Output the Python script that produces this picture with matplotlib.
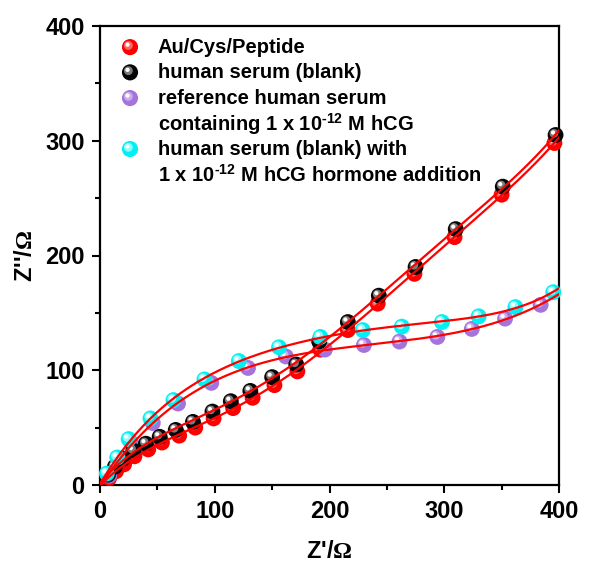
import numpy as np
import matplotlib
matplotlib.use("Agg")
import matplotlib.pyplot as plt
from matplotlib.transforms import ScaledTranslation

plt.rcParams['font.family'] = ['Liberation Sans', 'DejaVu Sans']
plt.rcParams['font.weight'] = 'bold'
plt.rcParams['mathtext.fontset'] = 'custom'
plt.rcParams['mathtext.rm'] = 'Liberation Sans:bold'
plt.rcParams['mathtext.bf'] = 'Liberation Sans:bold'
plt.rcParams['mathtext.it'] = 'Liberation Sans:bold'
plt.rcParams['mathtext.sf'] = 'Liberation Serif'

# ---- data ----
red_x = [8, 14, 21, 30, 42, 54, 69, 83, 99, 116, 133, 152, 172, 192, 216, 242, 274, 309, 350, 396]
red_y = [6, 12, 18, 25, 31, 37, 43, 50, 58, 67, 76, 87, 99, 118, 135, 158, 184, 216, 253, 298]

black_x = [7, 13, 20, 29, 40, 52, 66, 81, 98, 114, 131, 150, 171, 191, 216, 243, 275, 310, 351, 397]
black_y = [9, 16, 23, 30, 36, 42, 48, 55, 64, 73, 82, 94, 105, 125, 142, 165, 190, 223, 260, 305]

purple_x = [8, 17, 27, 46, 68, 97, 129, 162, 196, 230, 261, 294, 324, 353, 384]
purple_y = [8, 22, 37, 54, 71, 89, 102, 112, 118, 122, 125, 129, 136, 145, 157]

cyan_x = [6, 15, 25, 44, 64, 91, 121, 156, 192, 229, 263, 298, 330, 362, 395]
cyan_y = [10, 24, 40, 58, 74, 92, 108, 120, 129, 135, 138, 142, 147, 155, 168]

labels = ["Au/Cys/Peptide", "human serum (blank)",
          "reference human serum", r"containing 1 x 10$^{\text{-12}}$ M hCG",
          "human serum (blank) with", r"1 x 10$^{\text{-12}}$ M hCG hormone addition"]

xticks = [0, 100, 200, 300, 400]
yticks = [0, 100, 200, 300, 400]

colors = {
    'red': ('#ff0000', '#ff8080'),
    'black': ('#050505', '#9a9a9a'),
    'purple': ('#a474dc', '#d4bdf0'),
    'cyan': ('#00f0f4', '#b0ffff'),
}

fig = plt.figure(figsize=(5.89, 5.62), dpi=100)
ax = fig.add_axes([100/589, 77/562, 459/589, 459/562])


def sphere(ax, x, y, key, s=130, transform=None, z=3):
    base, light = colors[key]
    tr = transform if transform is not None else ax.transData
    ax.scatter(x, y, s=s, color=base, edgecolors='none', transform=tr, zorder=z, clip_on=False)
    off1 = tr + ScaledTranslation(-1.2/72, 1.2/72, fig.dpi_scale_trans)
    ax.scatter(x, y, s=s*0.30, color=light, alpha=0.8, edgecolors='none', transform=off1, zorder=z, clip_on=False)
    off2 = tr + ScaledTranslation(-1.8/72, 1.8/72, fig.dpi_scale_trans)
    ax.scatter(x, y, s=s*0.07, color='white', edgecolors='none', transform=off2, zorder=z, clip_on=False)


sphere(ax, red_x, red_y, 'red', z=3)
sphere(ax, black_x, black_y, 'black', z=4)
sphere(ax, purple_x, purple_y, 'purple', z=3)
sphere(ax, cyan_x, cyan_y, 'cyan', z=4)

# fitted lines
for xs, ys, deg in [(red_x, red_y, 5), (black_x, black_y, 5), (purple_x, purple_y, 5), (cyan_x, cyan_y, 5)]:
    xa = np.array([0] + list(xs), float)
    ya = np.array([0] + list(ys), float)
    p = np.polyfit(xa, ya, deg)
    xx = np.linspace(0, 400, 300)
    ax.plot(xx, np.polyval(p, xx), color='#ff0000', lw=1.6, zorder=6)

ax.set_xlim(0, 400)
ax.set_ylim(0, 400)
ax.set_xticks(xticks)
ax.set_yticks(yticks)
ax.set_xticks([50, 150, 250, 350], minor=True)
ax.set_yticks([50, 150, 250, 350], minor=True)
ax.tick_params(which='major', direction='out', length=6, width=1.5, labelsize=17, pad=5)
ax.tick_params(which='minor', direction='out', length=3.5, width=1.5)
for lab in ax.get_xticklabels() + ax.get_yticklabels():
    lab.set_fontweight('bold')
for sp in ax.spines.values():
    sp.set_linewidth(1.6)

ax.set_xlabel(r"Z'/$\mathsf{\Omega}$", fontsize=17, fontweight='bold', labelpad=12)
ax.set_ylabel(r"Z''/$\mathsf{\Omega}$", fontsize=17, fontweight='bold', labelpad=6)

# legend (manual)
rows = [0.954, 0.899, 0.843, 0.787, 0.732, 0.676]
mk = {0: 'red', 1: 'black', 2: 'purple', 4: 'cyan'}
for i, lab in enumerate(labels):
    ax.text(0.126, rows[i], lab, transform=ax.transAxes, fontsize=14.5, fontweight='bold',
            va='center', ha='left', zorder=8)
    if i in mk:
        sphere(ax, [0.0654], [rows[i]], mk[i], s=135, transform=ax.transAxes, z=8)

fig.savefig("out.png", dpi=100)
